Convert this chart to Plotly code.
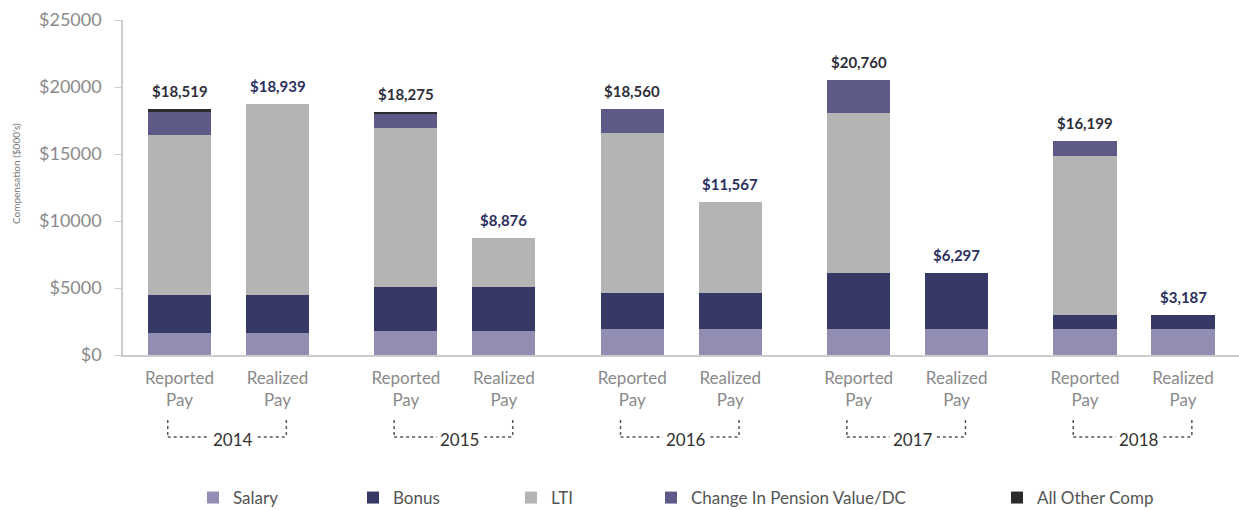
import plotly.graph_objects as go

# ---------------- data ----------------
years = ["2014", "2015", "2016", "2017", "2018"]
pay_types = ["Reported<br>Pay", "Realized<br>Pay"]
# bar order: 2014 Reported, 2014 Realized, 2015 Reported, ...
salary = [1620, 1620, 1800, 1800, 1925, 1925, 1930, 1930, 1930, 1930]
bonus = [2880, 2880, 3275, 3275, 2675, 2675, 4190, 4190, 1070, 1070]
lti = [11920, 14240, 11865, 3670, 11967, 6800, 11950, 0, 11870, 0]
pension = [1750, 0, 1050, 0, 1800, 0, 2490, 0, 1080, 0]
other_comp = [200, 0, 170, 0, 0, 0, 0, 0, 0, 0]
total_labels = ["$18,519", "$18,939", "$18,275", "$8,876", "$18,560",
                "$11,567", "$20,760", "$6,297", "$16,199", "$3,187"]
y_tick_vals = [0, 5000, 10000, 15000, 20000, 25000]
y_tick_text = ["$0", "$5000", "$10000", "$15000", "$20000", "$25000"]
y_title = "Compensation ($000's)"

series_names = ["Salary", "Bonus", "LTI", "Change In Pension Value/DC", "All Other Comp"]
series_values = [salary, bonus, lti, pension, other_comp]
series_colors = ["#928eb3", "#363966", "#b4b4b4", "#5d5a88", "#2b2b2b"]

# ---------------- layout helpers ----------------
GROUP_STEP = 2.31
BAR_W = 0.645
FONT = "Lato, 'Open Sans', sans-serif"
x_pos = [g * GROUP_STEP + j for g in range(len(years)) for j in range(len(pay_types))]
tick_text = [pay_types[j] for g in range(len(years)) for j in range(len(pay_types))]

# target positions in screen pixels
PLOT_L, PLOT_R, PLOT_T, PLOT_B = 123, 1239, 20, 355
W, H = 1239, 510
PX_PER_UNIT = 98.0
FIRST_CENTER = 179.5


def px_to_paper_x(p):
    return (p - PLOT_L) / (PLOT_R - PLOT_L)


def px_to_paper_y(p):
    return (PLOT_B - p) / (PLOT_B - PLOT_T)


fig = go.Figure()

legend_text_start = [233, 393, 551, 691, 1037]
legend_keys = ["legend", "legend2", "legend3", "legend4", "legend5"]
for name, vals, col, lk in zip(series_names, series_values, series_colors, legend_keys):
    fig.add_trace(go.Bar(
        x=x_pos, y=vals, name=name, width=BAR_W,
        marker=dict(color=col, line=dict(width=0)),
        legend=lk,
    ))

# total labels
totals = [sum(v[i] for v in series_values) for i in range(len(x_pos))]
for i, (xp, tot, lab) in enumerate(zip(x_pos, totals, total_labels)):
    fig.add_annotation(
        x=xp, y=tot, text=f"<b>{lab}</b>", showarrow=False,
        yanchor="bottom", yshift=7,
        font=dict(family=FONT, size=15, color="#2f2f3a" if i % 2 == 0 else "#2c2f5e"),
    )

# year brackets
y_top = px_to_paper_y(420)
y_bot = px_to_paper_y(437)
for g, yr in enumerate(years):
    xl = g * GROUP_STEP - 0.12
    xr = g * GROUP_STEP + 1 + 0.09
    line = dict(color="#555555", width=1.5, dash="3px,3px")
    fig.add_shape(type="line", xref="x", yref="paper", x0=xl, x1=xl, y0=y_top, y1=y_bot, line=line)
    fig.add_shape(type="line", xref="x", yref="paper", x0=xr, x1=xr, y0=y_top, y1=y_bot, line=line)
    fig.add_shape(type="line", xref="x", yref="paper", x0=xl, x1=xr, y0=y_bot, y1=y_bot, line=line)
    fig.add_annotation(
        x=g * GROUP_STEP + 0.55, y=px_to_paper_y(439), xref="x", yref="paper",
        yanchor="middle", xanchor="center",
        text=yr, showarrow=False, bgcolor="white", borderpad=3,
        font=dict(family=FONT, size=17, color="#333333"),
    )

# y axis title (rotated text at the far left)
fig.add_annotation(
    x=px_to_paper_x(16), y=px_to_paper_y(174), xref="paper", yref="paper",
    xanchor="center", yanchor="middle", textangle=-90,
    text=y_title, showarrow=False,
    font=dict(family=FONT, size=10, color="#777777"),
)

layout_legends = {}
for lk, ts in zip(legend_keys, legend_text_start):
    layout_legends[lk] = dict(
        x=px_to_paper_x(ts - 40), xanchor="left",
        yref="container", y=(H - 498) / H, yanchor="middle",
        orientation="h", bgcolor="rgba(0,0,0,0)",
        font=dict(family=FONT, size=17, color="#555555"),
        itemclick=False, itemdoubleclick=False,
    )

fig.update_layout(
    width=W, height=H,
    margin=dict(l=PLOT_L, r=W - PLOT_R, t=PLOT_T, b=H - PLOT_B),
    paper_bgcolor="white", plot_bgcolor="white",
    barmode="stack",
    font=dict(family=FONT, color="#888888"),
    xaxis=dict(
        range=[(PLOT_L - FIRST_CENTER) / PX_PER_UNIT, (PLOT_R - FIRST_CENTER) / PX_PER_UNIT],
        tickmode="array", tickvals=x_pos, ticktext=tick_text,
        showgrid=False, zeroline=False,
        showline=True, linecolor="#cccccc", linewidth=1.5,
        ticks="", ticklabelstandoff=7,
        tickfont=dict(family=FONT, size=17, color="#8a8a8a"),
        automargin=False,
    ),
    yaxis=dict(
        range=[0, 25000], tickmode="array",
        tickvals=y_tick_vals, ticktext=y_tick_text,
        showgrid=False, zeroline=False,
        showline=True, linecolor="#cccccc", linewidth=1.5,
        ticks="outside", ticklen=6, tickcolor="#cccccc",
        ticklabelstandoff=10,
        tickfont=dict(family=FONT, size=18, color="#8a8a8a"),
        automargin=False,
    ),
    showlegend=True,
    **layout_legends,
)

# remove the default page margin so the figure sits at the window origin
fig.write_html(
    "out.html",
    config={"displayModeBar": False},
    post_script="document.body.style.margin='0';document.body.style.overflow='hidden';",
)
